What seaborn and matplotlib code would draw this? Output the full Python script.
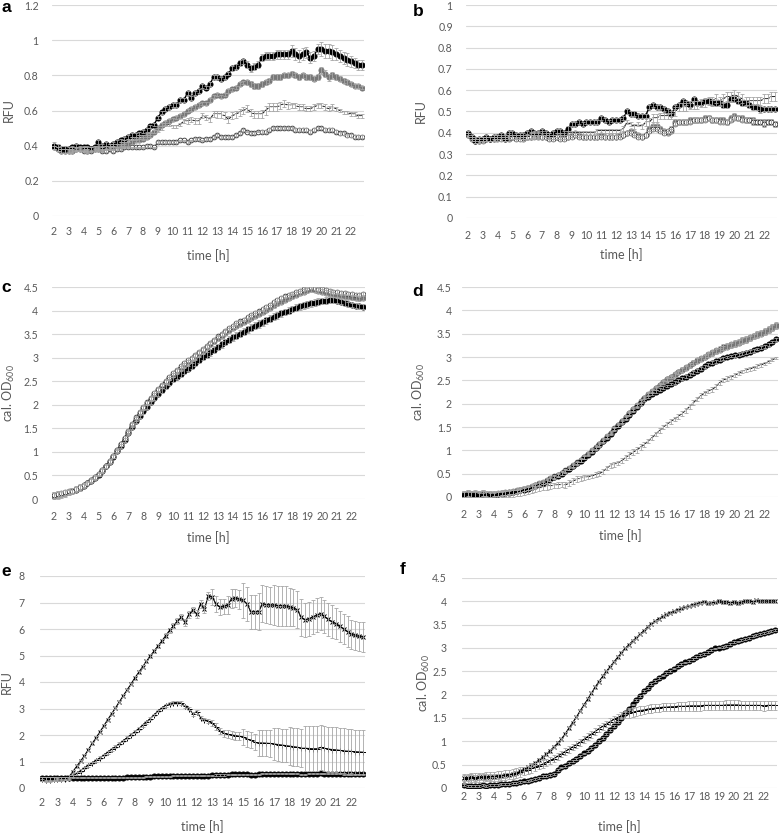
import numpy as np
import pandas as pd
import matplotlib
matplotlib.use("Agg")
import matplotlib.pyplot as plt
import seaborn as sns

sns.set_style("white")
plt.rcParams["font.family"] = ["Lato", "DejaVu Sans"]
plt.rcParams["font.weight"] = "normal"
plt.rcParams["mathtext.fontset"] = "custom"
plt.rcParams["mathtext.rm"] = "Lato"

# readings every 15 min, 2 h .. 22.75 h (84 time points)
TIME_H = np.arange(2, 23, 0.25)
XTICKS = list(range(2, 23))
XTICK_LABELS = [str(h) for h in XTICKS]

# ---------------- panel a (RFU) ----------------
A_BLACK = [0.40, 0.39, 0.38, 0.38, 0.38, 0.39, 0.40, 0.39, 0.39, 0.39, 0.38, 0.39,
           0.42, 0.40, 0.41, 0.40, 0.41, 0.42, 0.43, 0.44, 0.45, 0.46, 0.46, 0.47,
           0.48, 0.49, 0.51, 0.52, 0.56, 0.59, 0.61, 0.62, 0.63, 0.63, 0.66, 0.66,
           0.70, 0.67, 0.70, 0.71, 0.74, 0.73, 0.75, 0.79, 0.79, 0.78, 0.79, 0.81,
           0.84, 0.85, 0.87, 0.88, 0.86, 0.84, 0.85, 0.86, 0.90, 0.91, 0.91, 0.91,
           0.92, 0.92, 0.92, 0.92, 0.94, 0.92, 0.91, 0.92, 0.93, 0.90, 0.91, 0.95,
           0.95, 0.94, 0.94, 0.93, 0.92, 0.91, 0.90, 0.89, 0.88, 0.87, 0.86, 0.86]
A_GRAY = [0.39, 0.38, 0.37, 0.37, 0.37, 0.37, 0.38, 0.38, 0.38, 0.37, 0.38, 0.38,
          0.38, 0.38, 0.39, 0.39, 0.39, 0.40, 0.40, 0.41, 0.41, 0.42, 0.43, 0.43,
          0.44, 0.45, 0.46, 0.48, 0.50, 0.52, 0.53, 0.54, 0.55, 0.56, 0.57, 0.58,
          0.60, 0.61, 0.62, 0.63, 0.64, 0.64, 0.66, 0.68, 0.69, 0.68, 0.69, 0.71,
          0.72, 0.73, 0.75, 0.76, 0.76, 0.75, 0.74, 0.74, 0.75, 0.76, 0.77, 0.79,
          0.79, 0.79, 0.80, 0.80, 0.81, 0.80, 0.79, 0.80, 0.79, 0.79, 0.78, 0.79,
          0.83, 0.81, 0.79, 0.80, 0.79, 0.78, 0.77, 0.76, 0.75, 0.74, 0.74, 0.73]
A_LINE = [0.39, 0.38, 0.37, 0.37, 0.37, 0.38, 0.38, 0.38, 0.38, 0.38, 0.38, 0.39,
          0.39, 0.39, 0.39, 0.40, 0.40, 0.40, 0.41, 0.42, 0.43, 0.44, 0.44, 0.45,
          0.45, 0.46, 0.47, 0.48, 0.49, 0.50, 0.52, 0.52, 0.51, 0.51, 0.52, 0.54,
          0.54, 0.55, 0.54, 0.54, 0.57, 0.56, 0.55, 0.58, 0.58, 0.58, 0.57, 0.55,
          0.57, 0.58, 0.59, 0.60, 0.61, 0.59, 0.58, 0.58, 0.58, 0.60, 0.62, 0.62,
          0.62, 0.63, 0.64, 0.63, 0.63, 0.63, 0.62, 0.62, 0.61, 0.61, 0.62, 0.63,
          0.63, 0.62, 0.61, 0.62, 0.61, 0.60, 0.59, 0.59, 0.58, 0.58, 0.57, 0.57]
A_OPEN = [0.39, 0.38, 0.37, 0.37, 0.37, 0.37, 0.38, 0.38, 0.37, 0.37, 0.37, 0.38,
          0.38, 0.37, 0.37, 0.38, 0.37, 0.38, 0.38, 0.39, 0.39, 0.39, 0.39, 0.39,
          0.39, 0.40, 0.40, 0.39, 0.42, 0.42, 0.42, 0.42, 0.42, 0.42, 0.43, 0.43,
          0.42, 0.43, 0.44, 0.44, 0.43, 0.44, 0.44, 0.45, 0.46, 0.45, 0.45, 0.45,
          0.45, 0.46, 0.47, 0.49, 0.48, 0.47, 0.47, 0.48, 0.48, 0.48, 0.49, 0.50,
          0.50, 0.50, 0.50, 0.50, 0.50, 0.49, 0.49, 0.49, 0.49, 0.48, 0.49, 0.50,
          0.50, 0.49, 0.49, 0.49, 0.48, 0.47, 0.47, 0.46, 0.46, 0.45, 0.45, 0.45]
# hourly standard deviations (2 h .. 22 h)
A_BLACK_SD = [0.02, 0.01, 0.01, 0.01, 0.01, 0.01, 0.01, 0.01, 0.01, 0.01, 0.01,
              0.01, 0.015, 0.02, 0.02, 0.025, 0.035, 0.03, 0.04, 0.035, 0.03]
A_GRAY_SD = [0.01, 0.01, 0.01, 0.01, 0.01, 0.01, 0.01, 0.01, 0.01, 0.01, 0.01,
             0.01, 0.01, 0.015, 0.015, 0.015, 0.015, 0.015, 0.02, 0.015, 0.01]
A_LINE_SD = [0.01, 0.01, 0.01, 0.01, 0.01, 0.01, 0.01, 0.01, 0.01, 0.015, 0.015,
             0.02, 0.02, 0.02, 0.025, 0.02, 0.015, 0.015, 0.015, 0.01, 0.01]
A_OPEN_SD = [0.01, 0.005, 0.005, 0.005, 0.005, 0.005, 0.005, 0.005, 0.005, 0.005, 0.005,
             0.005, 0.005, 0.005, 0.008, 0.008, 0.008, 0.008, 0.008, 0.008, 0.008]

# ---------------- panel b (RFU) ----------------
B_BLACK = [0.40, 0.38, 0.36, 0.37, 0.37, 0.38, 0.37, 0.38, 0.38, 0.39, 0.37, 0.40,
           0.40, 0.39, 0.39, 0.39, 0.40, 0.41, 0.40, 0.40, 0.41, 0.40, 0.39, 0.40,
           0.41, 0.41, 0.40, 0.42, 0.44, 0.44, 0.45, 0.44, 0.45, 0.45, 0.45, 0.45,
           0.47, 0.46, 0.45, 0.46, 0.46, 0.46, 0.47, 0.50, 0.49, 0.49, 0.48, 0.48,
           0.48, 0.52, 0.53, 0.52, 0.52, 0.51, 0.50, 0.49, 0.52, 0.53, 0.55, 0.54,
           0.53, 0.56, 0.54, 0.54, 0.55, 0.55, 0.54, 0.54, 0.54, 0.53, 0.53, 0.56,
           0.56, 0.55, 0.54, 0.54, 0.53, 0.52, 0.52, 0.51, 0.51, 0.51, 0.51, 0.51]
B_LINE = [0.39, 0.37, 0.36, 0.37, 0.37, 0.37, 0.37, 0.38, 0.38, 0.37, 0.38, 0.39,
          0.38, 0.38, 0.38, 0.37, 0.38, 0.39, 0.39, 0.39, 0.40, 0.39, 0.39, 0.38,
          0.39, 0.39, 0.39, 0.40, 0.40, 0.40, 0.40, 0.40, 0.40, 0.40, 0.40, 0.41,
          0.41, 0.41, 0.41, 0.41, 0.41, 0.41, 0.42, 0.45, 0.44, 0.43, 0.44, 0.43,
          0.45, 0.45, 0.47, 0.47, 0.48, 0.48, 0.48, 0.48, 0.50, 0.52, 0.52, 0.52,
          0.53, 0.53, 0.53, 0.54, 0.54, 0.55, 0.55, 0.56, 0.55, 0.56, 0.57, 0.57,
          0.58, 0.57, 0.56, 0.55, 0.55, 0.55, 0.55, 0.55, 0.56, 0.56, 0.57, 0.57]
B_GRAY = [0.39, 0.37, 0.36, 0.36, 0.37, 0.37, 0.37, 0.37, 0.37, 0.38, 0.38, 0.37,
          0.38, 0.38, 0.38, 0.37, 0.38, 0.38, 0.39, 0.38, 0.38, 0.38, 0.38, 0.38,
          0.38, 0.38, 0.38, 0.38, 0.39, 0.40, 0.39, 0.38, 0.38, 0.38, 0.38, 0.38,
          0.39, 0.38, 0.38, 0.38, 0.38, 0.39, 0.39, 0.40, 0.41, 0.40, 0.39, 0.38,
          0.39, 0.42, 0.43, 0.43, 0.42, 0.41, 0.40, 0.41, 0.45, 0.45, 0.45, 0.45,
          0.46, 0.46, 0.46, 0.46, 0.47, 0.47, 0.46, 0.46, 0.46, 0.46, 0.45, 0.47,
          0.48, 0.47, 0.47, 0.46, 0.46, 0.46, 0.45, 0.45, 0.45, 0.45, 0.45, 0.44]
B_OPEN = [0.39, 0.38, 0.37, 0.36, 0.36, 0.37, 0.37, 0.37, 0.38, 0.37, 0.37, 0.38,
          0.38, 0.37, 0.37, 0.38, 0.38, 0.38, 0.38, 0.39, 0.38, 0.38, 0.37, 0.37,
          0.38, 0.37, 0.37, 0.38, 0.38, 0.39, 0.38, 0.38, 0.38, 0.38, 0.38, 0.38,
          0.38, 0.38, 0.38, 0.38, 0.38, 0.38, 0.39, 0.40, 0.40, 0.39, 0.38, 0.38,
          0.39, 0.41, 0.42, 0.42, 0.41, 0.40, 0.41, 0.42, 0.44, 0.45, 0.45, 0.45,
          0.45, 0.46, 0.46, 0.46, 0.46, 0.47, 0.46, 0.46, 0.45, 0.45, 0.45, 0.46,
          0.47, 0.47, 0.46, 0.46, 0.46, 0.45, 0.45, 0.45, 0.44, 0.45, 0.45, 0.44]
B_BLACK_SD = [0.01, 0.01, 0.01, 0.01, 0.01, 0.01, 0.01, 0.01, 0.01, 0.01, 0.01,
              0.01, 0.01, 0.01, 0.01, 0.01, 0.015, 0.015, 0.015, 0.015, 0.01]
B_LINE_SD = [0.01, 0.01, 0.01, 0.01, 0.015, 0.01, 0.01, 0.01, 0.01, 0.01, 0.01,
             0.01, 0.02, 0.015, 0.02, 0.02, 0.02, 0.02, 0.02, 0.02, 0.02]
B_GRAY_SD = [0.01, 0.01, 0.01, 0.01, 0.01, 0.01, 0.01, 0.01, 0.01, 0.01, 0.01,
             0.01, 0.01, 0.01, 0.015, 0.015, 0.015, 0.015, 0.015, 0.015, 0.015]
B_OPEN_SD = [0.01, 0.01, 0.01, 0.01, 0.01, 0.01, 0.01, 0.01, 0.01, 0.01, 0.01,
             0.01, 0.01, 0.01, 0.01, 0.01, 0.01, 0.01, 0.01, 0.015, 0.015]

# ---------------- panel c (cal. OD600) ----------------
C_OPEN = [0.08, 0.10, 0.12, 0.14, 0.16, 0.18, 0.22, 0.26, 0.30, 0.34, 0.40, 0.46,
          0.54, 0.62, 0.70, 0.80, 0.92, 1.04, 1.17, 1.30, 1.45, 1.60, 1.73, 1.84,
          1.95, 2.05, 2.15, 2.25, 2.34, 2.43, 2.51, 2.59, 2.67, 2.74, 2.82, 2.89,
          2.95, 3.00, 3.06, 3.12, 3.18, 3.25, 3.32, 3.38, 3.45, 3.51, 3.57, 3.63,
          3.68, 3.73, 3.77, 3.81, 3.86, 3.90, 3.94, 3.98, 4.03, 4.07, 4.12, 4.18,
          4.22, 4.26, 4.30, 4.33, 4.36, 4.40, 4.42, 4.45, 4.47, 4.50, 4.48, 4.46,
          4.45, 4.43, 4.42, 4.40, 4.39, 4.38, 4.37, 4.36, 4.35, 4.34, 4.33, 4.35]
C_GRAY = [0.07, 0.09, 0.11, 0.13, 0.15, 0.18, 0.21, 0.25, 0.29, 0.34, 0.40, 0.46,
          0.53, 0.61, 0.70, 0.80, 0.91, 1.03, 1.16, 1.29, 1.43, 1.57, 1.70, 1.82,
          1.93, 2.03, 2.13, 2.22, 2.31, 2.40, 2.48, 2.56, 2.64, 2.71, 2.78, 2.85,
          2.91, 2.97, 3.03, 3.09, 3.15, 3.22, 3.28, 3.35, 3.41, 3.47, 3.53, 3.58,
          3.63, 3.68, 3.72, 3.76, 3.80, 3.85, 3.89, 3.93, 3.97, 4.01, 4.06, 4.11,
          4.15, 4.19, 4.23, 4.27, 4.30, 4.34, 4.37, 4.40, 4.43, 4.45, 4.44, 4.42,
          4.40, 4.38, 4.36, 4.34, 4.33, 4.31, 4.30, 4.29, 4.28, 4.27, 4.26, 4.27]
C_BLACK = [0.06, 0.08, 0.10, 0.12, 0.14, 0.17, 0.20, 0.24, 0.28, 0.33, 0.39, 0.45,
           0.52, 0.60, 0.69, 0.79, 0.90, 1.01, 1.13, 1.26, 1.40, 1.53, 1.65, 1.76,
           1.86, 1.96, 2.06, 2.15, 2.23, 2.31, 2.39, 2.47, 2.54, 2.60, 2.66, 2.72,
           2.77, 2.83, 2.89, 2.95, 3.01, 3.06, 3.11, 3.17, 3.23, 3.28, 3.33, 3.38,
           3.43, 3.47, 3.51, 3.55, 3.60, 3.64, 3.68, 3.71, 3.75, 3.79, 3.83, 3.87,
           3.90, 3.94, 3.97, 4.00, 4.03, 4.06, 4.09, 4.11, 4.13, 4.15, 4.17, 4.19,
           4.20, 4.21, 4.22, 4.22, 4.21, 4.19, 4.16, 4.13, 4.12, 4.10, 4.09, 4.08]
C_OPEN_SD = [0.06, 0.05, 0.04, 0.04, 0.04, 0.04, 0.04, 0.04, 0.04, 0.04, 0.04,
             0.04, 0.04, 0.04, 0.04, 0.04, 0.04, 0.04, 0.04, 0.04, 0.04]
C_GRAY_SD = [0.06, 0.05, 0.04, 0.04, 0.04, 0.04, 0.04, 0.04, 0.04, 0.05, 0.05,
             0.05, 0.05, 0.05, 0.05, 0.05, 0.05, 0.05, 0.05, 0.05, 0.05]
C_BLACK_SD = [0.08, 0.06, 0.04, 0.04, 0.04, 0.04, 0.05, 0.05, 0.06, 0.06, 0.07,
              0.07, 0.07, 0.08, 0.07, 0.07, 0.07, 0.07, 0.07, 0.06, 0.05]

# ---------------- panel d (cal. OD600) ----------------
D_BLACK = [0.05, 0.06, 0.05, 0.05, 0.05, 0.05, 0.06, 0.05, 0.05, 0.06, 0.07, 0.08,
           0.09, 0.10, 0.12, 0.14, 0.16, 0.18, 0.21, 0.24, 0.27, 0.30, 0.34, 0.38,
           0.42, 0.46, 0.50, 0.55, 0.60, 0.66, 0.72, 0.78, 0.84, 0.90, 0.97, 1.04,
           1.11, 1.19, 1.27, 1.35, 1.44, 1.52, 1.60, 1.68, 1.76, 1.85, 1.93, 2.01,
           2.09, 2.15, 2.21, 2.26, 2.30, 2.34, 2.38, 2.42, 2.46, 2.50, 2.54, 2.58,
           2.62, 2.66, 2.71, 2.75, 2.80, 2.84, 2.88, 2.91, 2.94, 2.97, 3.00, 3.02,
           3.04, 3.05, 3.07, 3.09, 3.11, 3.14, 3.17, 3.20, 3.23, 3.27, 3.32, 3.38]
D_GRAY = [0.06, 0.07, 0.06, 0.06, 0.06, 0.07, 0.06, 0.06, 0.06, 0.07, 0.08, 0.09,
          0.10, 0.11, 0.13, 0.15, 0.17, 0.19, 0.22, 0.25, 0.28, 0.31, 0.35, 0.39,
          0.43, 0.47, 0.51, 0.56, 0.61, 0.67, 0.73, 0.79, 0.85, 0.92, 0.99, 1.06,
          1.13, 1.21, 1.29, 1.37, 1.46, 1.54, 1.62, 1.71, 1.79, 1.88, 1.96, 2.04,
          2.12, 2.19, 2.26, 2.33, 2.40, 2.46, 2.52, 2.57, 2.62, 2.67, 2.72, 2.77,
          2.82, 2.87, 2.92, 2.96, 3.00, 3.04, 3.08, 3.12, 3.15, 3.19, 3.22, 3.25,
          3.28, 3.31, 3.34, 3.37, 3.40, 3.44, 3.47, 3.50, 3.54, 3.58, 3.62, 3.67]
D_OPEN = [0.07, 0.08, 0.07, 0.07, 0.07, 0.08, 0.07, 0.07, 0.07, 0.08, 0.09, 0.10,
          0.11, 0.12, 0.14, 0.16, 0.18, 0.20, 0.23, 0.26, 0.29, 0.32, 0.36, 0.40,
          0.44, 0.48, 0.52, 0.57, 0.62, 0.68, 0.74, 0.80, 0.86, 0.93, 1.00, 1.07,
          1.14, 1.22, 1.30, 1.38, 1.47, 1.55, 1.63, 1.72, 1.80, 1.89, 1.97, 2.05,
          2.13, 2.20, 2.27, 2.34, 2.41, 2.47, 2.53, 2.58, 2.63, 2.68, 2.73, 2.78,
          2.83, 2.88, 2.93, 2.97, 3.01, 3.06, 3.10, 3.14, 3.17, 3.21, 3.24, 3.27,
          3.30, 3.33, 3.36, 3.39, 3.42, 3.46, 3.49, 3.52, 3.56, 3.60, 3.64, 3.69]
D_LINE = [0.05, 0.06, 0.05, 0.06, 0.05, 0.06, 0.05, 0.05, 0.04, 0.05, 0.06, 0.06,
          0.07, 0.08, 0.09, 0.10, 0.12, 0.14, 0.16, 0.17, 0.19, 0.21, 0.23, 0.24,
          0.25, 0.26, 0.27, 0.26, 0.30, 0.34, 0.38, 0.40, 0.42, 0.43, 0.45, 0.48,
          0.50, 0.55, 0.62, 0.68, 0.70, 0.73, 0.78, 0.85, 0.90, 0.96, 1.01, 1.07,
          1.13, 1.20, 1.27, 1.35, 1.42, 1.50, 1.56, 1.62, 1.67, 1.73, 1.79, 1.86,
          1.94, 2.02, 2.10, 2.17, 2.23, 2.27, 2.30, 2.37, 2.45, 2.51, 2.54, 2.57,
          2.61, 2.65, 2.69, 2.72, 2.74, 2.77, 2.80, 2.83, 2.86, 2.90, 2.94, 2.98]
D_BLACK_SD = [0.05, 0.04, 0.04, 0.04, 0.04, 0.03, 0.03, 0.03, 0.03, 0.03, 0.03,
              0.03, 0.03, 0.03, 0.03, 0.03, 0.03, 0.03, 0.03, 0.03, 0.03]
D_GRAY_SD = [0.06, 0.05, 0.04, 0.04, 0.05, 0.04, 0.04, 0.03, 0.03, 0.03, 0.03,
             0.03, 0.03, 0.03, 0.04, 0.05, 0.05, 0.05, 0.06, 0.06, 0.06]
D_OPEN_SD = [0.06, 0.06, 0.05, 0.05, 0.05, 0.05, 0.04, 0.04, 0.04, 0.04, 0.04,
             0.04, 0.04, 0.04, 0.05, 0.05, 0.05, 0.06, 0.06, 0.06, 0.06]
D_LINE_SD = [0.08, 0.08, 0.07, 0.07, 0.07, 0.07, 0.06, 0.06, 0.05, 0.05, 0.05,
             0.06, 0.05, 0.05, 0.05, 0.05, 0.05, 0.05, 0.04, 0.04, 0.03]

# ---------------- panel e (RFU) ----------------
E_HI = [0.35, 0.34, 0.33, 0.34, 0.35, 0.36, 0.37, 0.42, 0.62, 0.82, 1.02, 1.22,
        1.45, 1.68, 1.90, 2.12, 2.35, 2.58, 2.80, 3.02, 3.25, 3.48, 3.70, 3.92,
        4.15, 4.36, 4.57, 4.78, 4.98, 5.17, 5.36, 5.55, 5.75, 5.95, 6.12, 6.30,
        6.45, 6.25, 6.55, 6.72, 6.55, 6.95, 6.75, 7.25, 7.20, 6.95, 6.82, 6.85,
        6.90, 7.15, 7.17, 7.12, 7.08, 6.95, 6.65, 6.65, 6.65, 6.95, 6.92, 6.90,
        6.90, 6.88, 6.88, 6.86, 6.83, 6.80, 6.72, 6.45, 6.35, 6.38, 6.46, 6.52,
        6.58, 6.48, 6.36, 6.28, 6.20, 6.10, 6.00, 5.90, 5.80, 5.76, 5.72, 5.70]
E_MID = [0.33, 0.32, 0.32, 0.33, 0.33, 0.34, 0.35, 0.37, 0.45, 0.55, 0.66, 0.76,
         0.86, 0.95, 1.04, 1.14, 1.24, 1.35, 1.46, 1.56, 1.67, 1.78, 1.90, 2.01,
         2.12, 2.24, 2.36, 2.48, 2.62, 2.76, 2.90, 3.02, 3.12, 3.18, 3.22, 3.22,
         3.20, 3.08, 3.00, 2.80, 2.88, 2.66, 2.58, 2.52, 2.45, 2.32, 2.15, 2.06,
         2.02, 2.00, 1.98, 1.95, 1.93, 1.85, 1.80, 1.72, 1.70, 1.70, 1.69, 1.68,
         1.66, 1.64, 1.62, 1.60, 1.58, 1.56, 1.54, 1.50, 1.50, 1.49, 1.48, 1.48,
         1.53, 1.50, 1.47, 1.45, 1.44, 1.42, 1.40, 1.39, 1.38, 1.37, 1.36, 1.35]
E_BLACK = [0.38, 0.37, 0.36, 0.36, 0.37, 0.37, 0.38, 0.38, 0.38, 0.38, 0.39, 0.39,
           0.39, 0.39, 0.39, 0.39, 0.39, 0.39, 0.39, 0.39, 0.39, 0.39, 0.40, 0.40,
           0.40, 0.40, 0.41, 0.42, 0.43, 0.44, 0.44, 0.45, 0.45, 0.45, 0.46, 0.46,
           0.46, 0.46, 0.46, 0.46, 0.46, 0.47, 0.47, 0.47, 0.48, 0.49, 0.49, 0.49,
           0.50, 0.51, 0.51, 0.51, 0.51, 0.51, 0.50, 0.50, 0.52, 0.53, 0.54, 0.54,
           0.54, 0.53, 0.54, 0.54, 0.54, 0.54, 0.53, 0.52, 0.52, 0.53, 0.54, 0.54,
           0.55, 0.54, 0.54, 0.53, 0.53, 0.53, 0.52, 0.52, 0.52, 0.52, 0.52, 0.52]
E_HI_SD = [0.08, 0.06, 0.05, 0.05, 0.05, 0.05, 0.06, 0.08, 0.10, 0.12, 0.15,
           0.30, 0.35, 0.65, 0.70, 0.75, 0.70, 0.65, 0.62, 0.58, 0.55]
E_MID_SD = [0.08, 0.06, 0.05, 0.05, 0.05, 0.05, 0.05, 0.05, 0.06, 0.07, 0.07,
            0.12, 0.15, 0.30, 0.50, 0.62, 0.72, 0.85, 0.85, 0.85, 0.83]
E_BLACK_SD = [0.05, 0.03, 0.02, 0.02, 0.02, 0.02, 0.02, 0.02, 0.02, 0.02, 0.02,
              0.02, 0.02, 0.02, 0.02, 0.02, 0.02, 0.02, 0.02, 0.02, 0.02]

# ---------------- panel f (cal. OD600) ----------------
F_HI = [0.22, 0.22, 0.23, 0.22, 0.23, 0.23, 0.24, 0.24, 0.24, 0.25, 0.26, 0.27,
        0.28, 0.30, 0.32, 0.36, 0.40, 0.44, 0.49, 0.54, 0.60, 0.66, 0.73, 0.80,
        0.88, 0.96, 1.05, 1.16, 1.28, 1.40, 1.52, 1.65, 1.78, 1.90, 2.03, 2.16,
        2.28, 2.39, 2.50, 2.60, 2.70, 2.80, 2.90, 2.99, 3.07, 3.15, 3.22, 3.30,
        3.37, 3.45, 3.52, 3.58, 3.63, 3.68, 3.72, 3.76, 3.79, 3.82, 3.85, 3.88,
        3.90, 3.93, 3.95, 3.97, 3.99, 3.96, 3.97, 3.98, 4.00, 3.98, 3.99, 3.97,
        3.98, 3.96, 3.98, 4.00, 4.01, 3.99, 4.02, 4.00, 4.01, 4.00, 4.01, 4.00]
F_MID = [0.20, 0.21, 0.22, 0.22, 0.23, 0.23, 0.24, 0.25, 0.25, 0.26, 0.27, 0.28,
         0.29, 0.30, 0.32, 0.34, 0.37, 0.39, 0.42, 0.45, 0.48, 0.51, 0.55, 0.59,
         0.63, 0.68, 0.73, 0.78, 0.83, 0.88, 0.93, 0.98, 1.04, 1.10, 1.15, 1.21,
         1.27, 1.32, 1.37, 1.42, 1.47, 1.51, 1.55, 1.58, 1.60, 1.62, 1.64, 1.66,
         1.67, 1.69, 1.70, 1.71, 1.72, 1.73, 1.73, 1.74, 1.74, 1.75, 1.75, 1.75,
         1.76, 1.76, 1.76, 1.76, 1.77, 1.77, 1.77, 1.77, 1.77, 1.77, 1.78, 1.78,
         1.78, 1.78, 1.77, 1.77, 1.77, 1.77, 1.77, 1.77, 1.76, 1.77, 1.77, 1.77]
F_BLACK = [0.06, 0.05, 0.04, 0.05, 0.05, 0.06, 0.05, 0.06, 0.06, 0.07, 0.08, 0.08,
           0.09, 0.10, 0.11, 0.13, 0.14, 0.15, 0.17, 0.19, 0.22, 0.25, 0.26, 0.28,
           0.30, 0.38, 0.44, 0.48, 0.54, 0.58, 0.63, 0.68, 0.74, 0.80, 0.86, 0.93,
           1.00, 1.07, 1.15, 1.24, 1.33, 1.42, 1.51, 1.60, 1.69, 1.79, 1.89, 1.98,
           2.07, 2.15, 2.22, 2.29, 2.35, 2.41, 2.46, 2.51, 2.56, 2.61, 2.65, 2.69,
           2.73, 2.77, 2.81, 2.85, 2.88, 2.91, 2.95, 2.99, 3.01, 3.03, 3.05, 3.08,
           3.12, 3.14, 3.17, 3.19, 3.22, 3.25, 3.28, 3.30, 3.33, 3.35, 3.37, 3.39]
F_HI_SD = [0.06, 0.06, 0.05, 0.05, 0.04, 0.04, 0.03, 0.03, 0.03, 0.03, 0.03,
           0.03, 0.03, 0.03, 0.03, 0.03, 0.03, 0.04, 0.04, 0.04, 0.04]
F_MID_SD = [0.10, 0.10, 0.10, 0.10, 0.09, 0.08, 0.07, 0.07, 0.07, 0.07, 0.08,
            0.09, 0.09, 0.09, 0.09, 0.10, 0.10, 0.10, 0.10, 0.10, 0.10]
F_BLACK_SD = [0.02, 0.02, 0.02, 0.02, 0.02, 0.02, 0.02, 0.02, 0.02, 0.02, 0.02,
              0.02, 0.02, 0.02, 0.02, 0.02, 0.02, 0.02, 0.02, 0.02, 0.02]

# ---------------- styling ----------------
TXT = "#595959"
GRID = "#d9d9d9"
ERR = "#a6a6a6"
STYLES = {
    "black": dict(color="black", marker="o", markersize=3.6, markerfacecolor="black",
                  markeredgecolor="black", linewidth=1.0),
    "gray": dict(color="#777777", marker="o", markersize=3.6, markerfacecolor="#777777",
                 markeredgecolor="#777777", linewidth=1.0),
    "line": dict(color="#222222", marker="_", markersize=3.0, markeredgewidth=0.6,
                 linewidth=0.8),
    "open": dict(color="#333333", marker="o", markersize=3.4, markerfacecolor="white",
                 markeredgecolor="#333333", markeredgewidth=0.6, linewidth=0.8),
    "xmark": dict(color="black", marker="x", markersize=3.4, markeredgewidth=0.7,
                  markeredgecolor="black", linewidth=0.8),
    "plus": dict(color="black", marker="+", markersize=3.6, markeredgewidth=0.7,
                 markeredgecolor="black", linewidth=0.8),
}

fig = plt.figure(figsize=(7.8, 8.34), dpi=100)
W, H = 780, 834


def make_ax(x0, y0, x1, y1):
    return fig.add_axes([x0 / W, 1 - y1 / H, (x1 - x0) / W, (y1 - y0) / H])


def draw_series(ax, vals, sd_hourly, style):
    vals = np.asarray(vals)
    sd = np.repeat(np.asarray(sd_hourly), 4)
    ax.errorbar(TIME_H, vals, yerr=sd, fmt="none", ecolor=ERR, elinewidth=0.6,
                capsize=1.4, capthick=0.6, zorder=3)
    df = pd.DataFrame({"time": TIME_H, "value": vals})
    sns.lineplot(data=df, x="time", y="value", ax=ax, zorder=2,
                 estimator=None, errorbar=None, **STYLES[style])


def style_ax(ax, ymax, yticks, ylabel, xpad, ypad, xlabel_off, ylabel_off, h_px, w_px):
    ax.set_xlim(2 - 0.125, 22.875)
    ax.set_ylim(0, ymax)
    ax.set_xticks(XTICKS)
    ax.set_xticklabels(XTICK_LABELS)
    ax.set_yticks(yticks)
    ax.set_yticklabels(["{:g}".format(v) for v in yticks])
    ax.tick_params(axis="x", length=0, pad=xpad, labelsize=7.6, labelcolor=TXT)
    ax.tick_params(axis="y", length=0, pad=ypad, labelsize=7.6, labelcolor=TXT)
    for s in ax.spines.values():
        s.set_visible(False)
    ax.yaxis.grid(True, color=GRID, linewidth=0.8)
    ax.xaxis.grid(False)
    ax.set_axisbelow(True)
    ax.set_xlabel("time [h]", fontsize=9, color=TXT, fontweight="normal")
    ax.set_ylabel(ylabel, fontsize=9, color=TXT, fontweight="normal")
    ax.xaxis.set_label_coords(0.5, -xlabel_off / h_px)
    ax.yaxis.set_label_coords(-ylabel_off / w_px, 0.5)


OD_LABEL = "cal. OD$_{\\mathrm{600}}$"
OD_TICKS = [0, 0.5, 1, 1.5, 2, 2.5, 3, 3.5, 4, 4.5]

# panel a
ax = make_ax(52, 5, 364, 216)
draw_series(ax, A_OPEN, A_OPEN_SD, "open")
draw_series(ax, A_LINE, A_LINE_SD, "line")
draw_series(ax, A_GRAY, A_GRAY_SD, "gray")
draw_series(ax, A_BLACK, A_BLACK_SD, "black")
style_ax(ax, 1.2, [0, 0.2, 0.4, 0.6, 0.8, 1, 1.2], "RFU", 7.5, 9.5, 33, 37, 211, 312)

# panel b
ax = make_ax(466, 5, 777, 218)
draw_series(ax, B_GRAY, B_GRAY_SD, "gray")
draw_series(ax, B_OPEN, B_OPEN_SD, "open")
draw_series(ax, B_LINE, B_LINE_SD, "line")
draw_series(ax, B_BLACK, B_BLACK_SD, "black")
style_ax(ax, 1.0, [0, 0.1, 0.2, 0.3, 0.4, 0.5, 0.6, 0.7, 0.8, 0.9, 1],
         "RFU", 8.5, 9.5, 30, 39, 213, 311)

# panel c
ax = make_ax(52, 287, 365, 499)
draw_series(ax, C_BLACK, C_BLACK_SD, "black")
draw_series(ax, C_GRAY, C_GRAY_SD, "gray")
draw_series(ax, C_OPEN, C_OPEN_SD, "open")
style_ax(ax, 4.5, OD_TICKS, OD_LABEL, 8.3, 10, 32, 35, 212, 313)

# panel d
ax = make_ax(462, 287, 778, 497)
draw_series(ax, D_LINE, D_LINE_SD, "line")
draw_series(ax, D_OPEN, D_OPEN_SD, "open")
draw_series(ax, D_GRAY, D_GRAY_SD, "gray")
draw_series(ax, D_BLACK, D_BLACK_SD, "black")
style_ax(ax, 4.5, OD_TICKS, OD_LABEL, 8.3, 7.5, 32, 35, 210, 316)

# panel e
ax = make_ax(40, 576, 365, 788)
draw_series(ax, E_BLACK, E_BLACK_SD, "black")
draw_series(ax, E_MID, E_MID_SD, "plus")
draw_series(ax, E_HI, E_HI_SD, "xmark")
style_ax(ax, 8, [0, 1, 2, 3, 4, 5, 6, 7, 8], "RFU", 6.5, 11, 32, 27, 212, 325)

# panel f
ax = make_ax(462, 578, 777, 788)
draw_series(ax, F_BLACK, F_BLACK_SD, "black")
draw_series(ax, F_MID, F_MID_SD, "plus")
draw_series(ax, F_HI, F_HI_SD, "xmark")
style_ax(ax, 4.5, OD_TICKS, OD_LABEL, 1.8, 11, 32, 30, 210, 315)

# panel letters
for letter, (px, py) in {"a": (6, 8), "b": (418, 11), "c": (6, 287),
                         "d": (418, 292), "e": (6, 572), "f": (403, 570)}.items():
    fig.text(px / W, 1 - py / H, letter, ha="center", va="center", fontsize=12.5,
             fontweight="bold", family=["Liberation Sans", "DejaVu Sans"], color="black")

fig.savefig("out.png", dpi=100)
